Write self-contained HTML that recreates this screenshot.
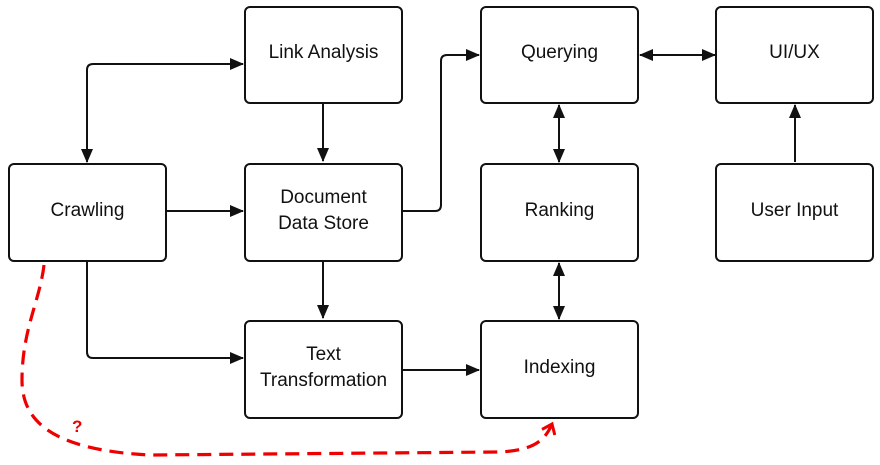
<!DOCTYPE html>
<html><head><style>
body{margin:0;background:#fff;width:880px;height:465px;overflow:hidden}
.b{position:absolute;border:2.5px solid #111;border-radius:6px;box-sizing:border-box;display:flex;align-items:center;justify-content:center;text-align:center;font-family:"Liberation Sans",sans-serif;font-size:19px;line-height:26px;color:#111;padding-bottom:4px}
</style></head><body>
<svg width="880" height="465" style="position:absolute;left:0;top:0">
<defs>
<marker id="a" markerWidth="14" markerHeight="12" refX="13" refY="6" orient="auto-start-reverse" markerUnits="userSpaceOnUse"><path d="M0,0 L14,6 L0,12 Z" fill="#111"/></marker>
<marker id="r" markerWidth="16" markerHeight="16" refX="11" refY="8" orient="auto" markerUnits="userSpaceOnUse"><path d="M2,1 L11,8 L2,15" fill="none" stroke="#e00" stroke-width="3"/></marker>
</defs>
<g stroke="#111" stroke-width="2" fill="none">
<path d="M87,162 L87,70 Q87,64 93,64 L243,64" marker-start="url(#a)" marker-end="url(#a)"/>
<path d="M323,104 L323,161" marker-end="url(#a)"/>
<path d="M166,211 L243,211" marker-end="url(#a)"/>
<path d="M323,262 L323,318" marker-end="url(#a)"/>
<path d="M87,262 L87,352 Q87,358 93,358 L243,358" marker-end="url(#a)"/>
<path d="M403,370 L479,370" marker-end="url(#a)"/>
<path d="M403,211 L435,211 Q441,211 441,205 L441,61 Q441,55 447,55 L479,55" marker-end="url(#a)"/>
<path d="M640,55 L715,55" marker-start="url(#a)" marker-end="url(#a)"/>
<path d="M559,105 L559,162" marker-start="url(#a)" marker-end="url(#a)"/>
<path d="M559,263 L559,319" marker-start="url(#a)" marker-end="url(#a)"/>
<path d="M795,162 L795,105" marker-end="url(#a)"/>
</g>
<path d="M44,265 C40,300 22,330 22,380 C22,420 50,450 150,455 L500,452 C535,450 545,440 552,424" stroke="#e00" stroke-width="3.2" fill="none" stroke-dasharray="14,8" marker-end="url(#r)"/>
<text x="72" y="432" fill="#e00" font-family="Liberation Sans,sans-serif" font-weight="bold" font-size="17">?</text>
</svg>
<div class="b" style="left:244px;top:6px;width:159px;height:98px">Link Analysis</div>
<div class="b" style="left:480px;top:6px;width:159px;height:98px">Querying</div>
<div class="b" style="left:715px;top:6px;width:159px;height:98px">UI/UX</div>
<div class="b" style="left:8px;top:163px;width:159px;height:99px">Crawling</div>
<div class="b" style="left:244px;top:163px;width:159px;height:99px">Document<br>Data Store</div>
<div class="b" style="left:480px;top:163px;width:159px;height:99px">Ranking</div>
<div class="b" style="left:715px;top:163px;width:159px;height:99px">User Input</div>
<div class="b" style="left:244px;top:320px;width:159px;height:99px">Text<br>Transformation</div>
<div class="b" style="left:480px;top:320px;width:159px;height:99px">Indexing</div>
</body></html>
